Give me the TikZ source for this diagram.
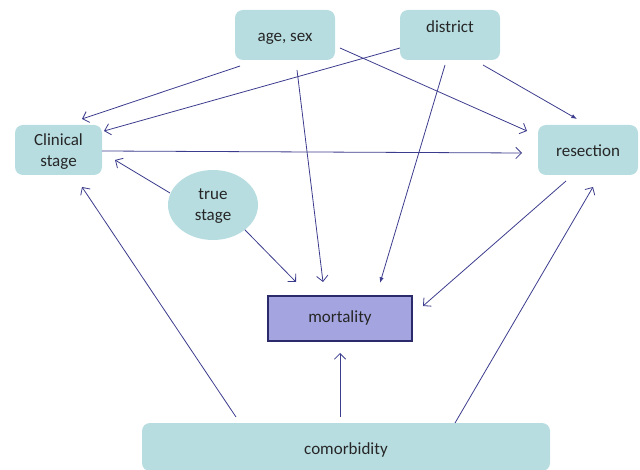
\documentclass[tikz,border=0pt]{standalone}
\usepackage{fontspec}
\setmainfont{Carlito}
\usetikzlibrary{arrows.meta,shapes.geometric}

\definecolor{boxfill}{HTML}{B7DDE1}
\definecolor{mortfill}{HTML}{A4A4E0}
\definecolor{mortline}{HTML}{2B2B6B}
\definecolor{arrline}{HTML}{3C3C8E}

\begin{document}
\begin{tikzpicture}[
  x=1pt, y=-1pt,
  every node/.style={font=\fontsize{17}{21}\selectfont, text=black!85},
  bnode/.style={fill=boxfill,rounded corners=8pt,inner sep=0pt,outer sep=0pt,align=center},
  lnode/.style={text height=14pt,text depth=0pt},
  enode/.style={fill=boxfill,ellipse,minimum width=90pt,minimum height=70pt,inner sep=0pt,outer sep=0pt,align=center,text depth=0pt},
  mnode/.style={draw=mortline,line width=1.6pt,fill=mortfill,inner sep=0pt,outer sep=0pt,minimum width=144pt,minimum height=45pt,text height=12pt,text depth=4pt},
  line width=0.8pt, arrline
]
  \useasboundingbox (0,0) rectangle (640,470);

  % confounders
  \node[bnode,lnode,minimum width=100pt,minimum height=50pt] (agesex) at (285,35) {age, sex};
  \node[bnode,lnode,minimum width=100pt,minimum height=50pt,text depth=18pt] (district) at (450,35) {district};

  % stage and treatment
  \node[bnode,minimum width=87pt,minimum height=50pt,text depth=0pt] (clinical) at (58.5,150) {Clinical\\stage};
  \node[bnode,lnode,minimum width=100pt,minimum height=50pt] (resection) at (588,150) {resection};
  \node[enode] (truestage) at (213,205) {true\\stage};

  % outcome
  \node[mnode] (mortality) at (340,318.5) {mortality};
  \node[bnode,lnode,minimum width=408pt,minimum height=48pt] (comorbidity) at (346,447) {comorbidity};

  % edges to clinical stage
  \draw[-{Straight Barb[length=2mm]}] ([shift={(5,6)}]agesex.south west) -- ([shift={(-20,-6)}]clinical.north east);
  \draw[-{Straight Barb[length=2mm]}] ([shift={(0,13)}]district.west) -- ([shift={(2,6)}]clinical.north east);
  \draw[-{Straight Barb[length=2mm]}] ([shift={(2,-12)}]truestage.west) -- ([shift={(13,10)}]clinical.east);
  \draw[-{Straight Barb[length=2mm]}] ([shift={(94,-6)}]comorbidity.north west) -- ([shift={(23.5,12)}]clinical.south);

  % edges to resection
  \draw[-{Straight Barb[length=2mm]}] ([shift={(5,13)}]agesex.east) -- ([shift={(-11,6)}]resection.north west);
  \draw[-{Latex[length=2mm]}] ([shift={(33,5)}]district.south) -- ([shift={(-11,-6)}]resection.north);
  \draw[-{Straight Barb[length=2mm]}] ([shift={(0,1)}]clinical.east) -- ([shift={(-16,3)}]resection.west);
  \draw[-{Straight Barb[length=2mm]}] ([shift={(109,0)}]comorbidity.north) -- ([shift={(5,12)}]resection.south);

  % edges to mortality
  \draw[-{Straight Barb[length=2mm]}] (truestage.south east) -- ([shift={(28,-14)}]mortality.north west);
  \draw[-{Straight Barb[length=2mm]}] ([shift={(12,10)}]agesex.south) -- ([shift={(-17,-14)}]mortality.north);
  \draw[-{Latex[length=2mm]}] ([shift={(-5,5)}]district.south) -- ([shift={(40,-13)}]mortality.north);
  \draw[-{Straight Barb[length=2mm]}] ([shift={(-22,6)}]resection.south) -- ([shift={(11,10)}]mortality.north east);
  \draw[-{Straight Barb[length=2mm]}] ([shift={(-6,-6)}]comorbidity.north) -- ([shift={(0,12)}]mortality.south);

\end{tikzpicture}
\end{document}
